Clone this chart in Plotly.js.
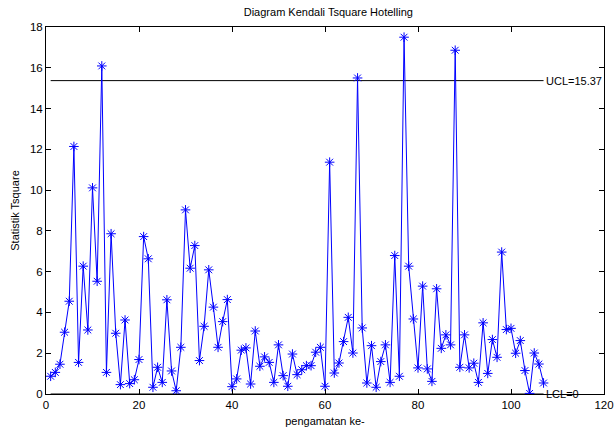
<!DOCTYPE html>
<html>
<head>
<meta charset="utf-8">
<script src="https://cdn.plot.ly/plotly-3.0.1.min.js"></script>
<style>html,body{margin:0;padding:0;background:#fff;}#chart{width:616px;height:430px;}</style>
</head>
<body>
<div id="chart"></div>
<script>
const observations = Array.from({length: 107}, (_, i) => i + 1);
const tsquare = [
  0.87, 1.06, 1.46, 3.03, 4.55, 12.14, 1.55, 6.27, 3.14, 10.11,
  5.53, 16.09, 1.06, 7.86, 2.98, 0.46, 3.63, 0.51, 0.70, 1.69,
  7.72, 6.63, 0.33, 1.31, 0.57, 4.62, 1.13, 0.16, 2.29, 9.03,
  6.17, 7.28, 1.64, 3.32, 6.09, 4.26, 2.29, 3.55, 4.63, 0.36,
  0.74, 2.15, 2.26, 0.49, 3.09, 1.36, 1.82, 1.55, 0.57, 2.41,
  0.90, 0.38, 1.96, 0.95, 1.19, 1.39, 1.39, 2.05, 2.29, 0.38,
  11.37, 1.03, 1.52, 2.57, 3.76, 2.01, 15.50, 3.24, 0.54, 2.37,
  0.33, 1.59, 2.41, 0.57, 6.79, 0.87, 17.50, 6.27, 3.68, 1.28,
  5.29, 1.23, 0.62, 5.16, 2.24, 2.90, 2.41, 16.86, 1.31, 2.90,
  1.28, 1.51, 0.57, 3.49, 1.01, 2.67, 1.80, 6.96, 3.16, 3.22,
  2.00, 2.62, 1.15, 0.03, 2.01, 1.47, 0.54
];
const UCL = 15.37;
const LCL = 0;
const limitX = [1, 107];
const xTicks = [0, 20, 40, 60, 80, 100, 120];
const yTicks = [0, 2, 4, 6, 8, 10, 12, 14, 16, 18];

const font = {family: '"Liberation Sans", Arial, sans-serif', size: 11, color: '#000'};
const tickFont = {family: '"Liberation Sans", Arial, sans-serif', size: 11.5, color: '#000'};

const traces = [
  {x: limitX, y: [UCL, UCL], mode: 'lines', line: {color: '#000', width: 1}, hoverinfo: 'skip'},
  {x: limitX, y: [LCL, LCL], mode: 'lines', line: {color: '#000', width: 1}, hoverinfo: 'skip'},
  {x: observations, y: tsquare, mode: 'lines+markers',
   line: {color: '#0000ff', width: 1},
   marker: {symbol: 'asterisk-open', size: 8, color: '#0000ff', line: {color: '#0000ff', width: 1}}}
];

const axisCommon = {
  showline: true, linecolor: '#000', linewidth: 1, mirror: 'ticks',
  ticks: 'inside', ticklen: 5, tickcolor: '#000', tickwidth: 1,
  showgrid: false, zeroline: false, tickfont: tickFont
};

const layout = {
  width: 616, height: 430,
  margin: {l: 46, r: 12, t: 26.5, b: 36},
  paper_bgcolor: '#fff', plot_bgcolor: '#fff',
  showlegend: false,
  font: font,
  title: {text: 'Diagram Kendali Tsquare Hotelling', font: font, x: 0.533, xanchor: 'center', y: 1 - 12/430, yanchor: 'middle', yref: 'container'},
  xaxis: Object.assign({}, axisCommon, {range: [0, 120], tickvals: xTicks, ticktext: xTicks.map(String),
    title: {text: 'pengamatan ke-', font: font, standoff: 7}}),
  yaxis: Object.assign({}, axisCommon, {range: [0, 18], tickvals: yTicks, ticktext: yTicks.map(String),
    title: {text: 'Statistik Tsquare', font: font, standoff: 8}}),
  annotations: [
    {x: limitX[1], y: UCL, xref: 'x', yref: 'y', text: 'UCL=' + UCL, showarrow: false, xanchor: 'left', yanchor: 'middle', font: font},
    {x: limitX[1], y: LCL, xref: 'x', yref: 'y', text: 'LCL=' + LCL, showarrow: false, xanchor: 'left', yanchor: 'middle', font: font}
  ]
};

Plotly.newPlot('chart', traces, layout, {displayModeBar: false, staticPlot: true});
</script>
</body>
</html>
